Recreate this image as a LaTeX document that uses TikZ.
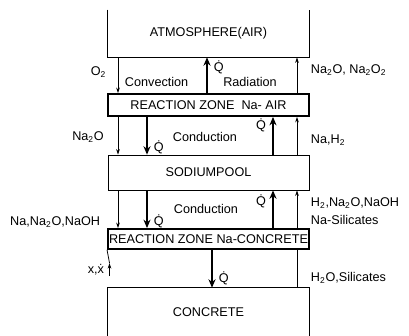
\documentclass[tikz,border=0pt]{standalone}
\usepackage{fontspec}
\setmainfont{Liberation Sans}
\usetikzlibrary{arrows.meta}

\begin{document}
\begin{tikzpicture}[x=0.025cm, y=-0.025cm, font=\fontsize{9}{12.5}\selectfont,
  layer/.style={minimum width=5.025cm, inner sep=0pt},
  zone/.style={layer, draw, line width=1.3pt},
  flow/.style={line width=0.55pt, -{Stealth[length=4pt, width=2.6pt]}},
  heat/.style={line width=1.3pt, -{Stealth[length=6pt, width=5pt]}}]
\useasboundingbox (0,0) rectangle (409,336);
\node[layer, minimum height=1.175cm] (atm) at (208.5,33.5) {ATMOSPHERE(AIR)};
\node[zone, minimum height=0.55cm] (rzair) at (208.5,105) {REACTION ZONE\ \ Na- AIR};
\node[layer, draw, line width=0.5pt, minimum height=0.875cm] (pool) at (208.5,172.5) {SODIUMPOOL};
\node[zone, minimum height=0.5cm] (rzcon) at (208.5,239) {REACTION ZONE Na-CONCRETE};
\node[layer, minimum height=1.2cm] (con) at (208.5,312) {CONCRETE};
\draw[line width=0.5pt] (atm.north west) -- (atm.south west) -- (atm.south east) -- (atm.north east);
\draw[line width=0.5pt] (con.south west) -- (con.north west) -- (con.north east) -- (con.south east);
\coordinate (c1) at (118,0);
\coordinate (c2) at (147,0);
\coordinate (c3) at (207,0);
\coordinate (c4) at (273,0);
\coordinate (c5) at (297,0);
\coordinate (c6) at (212,0);
\coordinate (xend) at (109.5,276);
\coordinate (xtip) at (109.5,263);
\draw[flow] (atm.south -| c1) -- (rzair.north -| c1);
\draw[heat] (rzair.north -| c3) -- (atm.south -| c3);
\draw[flow] (rzair.north -| c5) -- (atm.south -| c5);
\draw[flow] (rzair.south -| c1) -- (pool.north -| c1);
\draw[heat] (rzair.south -| c2) -- (pool.north -| c2);
\draw[heat] (pool.north -| c4) -- (rzair.south -| c4);
\draw[flow] (pool.north -| c5) -- (rzair.south -| c5);
\draw[flow] (pool.south -| c1) -- (rzcon.north -| c1);
\draw[heat] (pool.south -| c2) -- (rzcon.north -| c2);
\draw[heat] (rzcon.north -| c4) -- (pool.south -| c4);
\draw[flow] (rzcon.north -| c5) -- (pool.south -| c5);
\draw[heat] (rzcon.south -| c6) -- (con.north -| c6);
\draw[line width=0.55pt] (rzcon.south -| c5) -- (con.north -| c5);
\draw[flow] (xend) -- (xtip);
\draw[line width=0.55pt] (xtip) -- (rzcon.south west);
\node[anchor=east] (lo2) at (111,72) {O\textsubscript{2}};
\node[anchor=west] (lconv) at (120,82) {Convection};
\node (lrad) at (250,82) {Radiation};
\node[anchor=west] (lq1) at (209,67) {\.Q};
\node[anchor=west] (lair) at (306,70) {Na\textsubscript{2}O, Na\textsubscript{2}O\textsubscript{2}};
\node (lna2o) at (88,137) {Na\textsubscript{2}O};
\node (lcond1) at (205,137) {Conduction};
\node[anchor=west] (lq2) at (149,147) {\.Q};
\node[anchor=east] (lq3) at (271,125) {\.Q};
\node[anchor=west] (lnah) at (306,140) {Na,H\textsubscript{2}};
\node (lcond2) at (206,209) {Conduction};
\node[anchor=west] (lq4) at (149,221) {\.Q};
\node[anchor=east] (lq5) at (271,201) {\.Q};
\node[anchor=west, align=left] (lsil) at (306,211) {H\textsubscript{2},Na\textsubscript{2}O,NaOH\\Na-Silicates};
\node[anchor=east] (lnaoh) at (105,222) {Na,Na\textsubscript{2}O,NaOH};
\node[anchor=east] (lx) at (109,270) {x,\.x};
\node[anchor=west] (lq6) at (214,278) {\.Q};
\node[anchor=west] (lh2o) at (306,278) {H\textsubscript{2}O,Silicates};
\end{tikzpicture}
\end{document}
